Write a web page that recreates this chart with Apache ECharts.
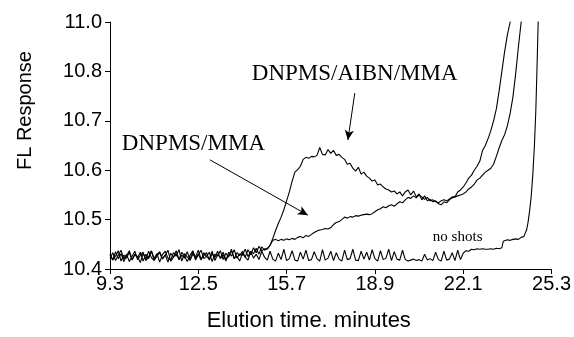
<!DOCTYPE html>
<html>
<head>
<meta charset="utf-8">
<script src="https://cdn.jsdelivr.net/npm/echarts@6/dist/echarts.min.js"></script>
<style>html,body{margin:0;padding:0;background:#fff}#c{width:574px;height:337px}</style>
</head>
<body>
<div id="c"></div>
<script>
// Time grid (minutes)
const timeGrid = [9.3,9.4,9.5,9.6,9.7,9.8,9.9,10.0,10.1,10.2,10.3,10.4,10.5,10.6,10.7,10.8,10.9,11.0,11.1,11.2,11.3,11.4,11.5,11.6,11.7,11.8,11.9,12.0,12.1,12.2,12.3,12.4,12.5,12.6,12.7,12.8,12.9,13.0,13.1,13.2,13.3,13.4,13.5,13.6,13.7,13.8,13.9,14.0,14.1,14.2,14.3,14.4,14.5,14.6,14.7,14.8,14.9,
15.0,15.1,15.2,15.3,15.4,15.5,15.6,15.7,15.8,15.9,16.0,16.1,16.2,16.3,16.4,16.5,16.6,16.7,16.8,16.9,17.0,17.1,17.2,17.3,17.4,17.5,17.6,17.7,17.8,17.9,18.0,18.1,18.2,18.3,18.4,18.5,18.6,18.7,18.8,18.9,19.0,19.1,19.2,19.3,19.4,19.5,19.6,19.7,19.8,19.9,20.0,20.1,20.2,20.3,20.4,20.5,20.6,20.7,20.8,20.9,21.0,21.1,21.2,21.3,21.4,21.5,21.6,21.7,21.8,21.9,22.0,22.1,22.2,22.3,22.4,22.5,22.6,22.7,22.8,22.9,23.0,23.1,23.2,23.3,23.4,23.5,23.6,23.7,23.8,23.9,24.0,24.1,24.2,24.3];

// DNPMS/AIBN/MMA (9.3 .. 23.9)
const aibnValues = [
10.428,10.418,10.435,10.421,10.431,10.415,10.427,10.437,10.419,10.429,
10.423,10.434,10.416,10.430,10.421,10.436,10.418,10.426,10.433,10.420,
10.429,10.414,10.432,10.424,10.437,10.419,10.428,10.422,10.435,10.417,
10.430,10.425,10.438,10.420,10.427,10.433,10.418,10.431,10.423,10.436,
10.421,10.429,10.416,10.434,10.426,10.439,10.422,10.431,10.428,10.440,
10.425,10.436,10.431,10.442,10.430,10.445,10.438,
10.442,10.448,10.462,10.478,10.492,10.505,10.520,10.538,10.556,10.578,
10.596,10.601,10.608,10.622,10.626,10.624,10.628,10.627,10.630,10.646,
10.632,10.631,10.642,10.634,10.640,10.630,10.632,10.626,10.622,10.612,
10.614,10.604,10.598,10.606,10.592,10.596,10.588,10.584,10.578,10.580,
10.570,10.572,10.566,10.562,10.560,10.556,10.558,10.552,10.556,10.548,
10.556,10.560,10.550,10.558,10.546,10.552,10.540,10.548,10.538,10.541,
10.536,10.538,10.532,10.530,10.536,10.534,10.540,10.544,10.546,10.556,
10.560,10.566,10.574,10.584,10.590,10.600,10.608,10.618,10.640,10.650,
10.664,10.680,10.700,10.724,10.760,10.800,10.840,10.874,10.900,10.930];

// DNPMS/MMA (9.3 .. 24.3)
const mmaValues = [
10.422,10.433,10.417,10.428,10.438,10.420,10.430,10.415,10.426,10.436,
10.419,10.428,10.434,10.417,10.425,10.437,10.421,10.431,10.414,10.429,
10.436,10.422,10.418,10.433,10.426,10.439,10.416,10.431,10.424,10.420,
10.435,10.418,10.429,10.438,10.421,10.426,10.434,10.415,10.430,10.427,
10.437,10.419,10.432,10.424,10.440,10.421,10.433,10.427,10.436,10.424,
10.439,10.429,10.443,10.433,10.446,10.437,10.441,
10.440,10.448,10.458,10.460,10.457,10.460,10.458,10.461,10.459,10.462,
10.460,10.464,10.466,10.463,10.468,10.466,10.470,10.474,10.477,10.479,
10.480,10.482,10.481,10.484,10.490,10.494,10.496,10.500,10.505,10.503,
10.506,10.505,10.508,10.507,10.509,10.510,10.511,10.510,10.512,10.516,
10.520,10.522,10.526,10.524,10.528,10.530,10.527,10.532,10.536,10.534,
10.540,10.545,10.543,10.548,10.544,10.550,10.546,10.541,10.545,10.538,
10.540,10.536,10.534,10.538,10.540,10.538,10.542,10.546,10.546,10.548,
10.550,10.552,10.556,10.562,10.566,10.572,10.580,10.584,10.590,10.596,
10.600,10.604,10.612,10.628,10.645,10.660,10.672,10.690,10.715,10.748,
10.795,10.850,10.900,10.930];

// no shots (9.3 .. 23.5 on grid, then tail)
const noShotValues = [
10.431,10.419,10.426,10.437,10.416,10.428,10.422,10.434,10.418,10.430,
10.425,10.413,10.432,10.420,10.436,10.423,10.417,10.429,10.435,10.421,
10.427,10.438,10.416,10.424,10.431,10.419,10.434,10.426,10.415,10.428,
10.437,10.422,10.430,10.418,10.433,10.425,10.420,10.436,10.417,10.429,
10.423,10.434,10.419,10.428,10.437,10.421,10.426,10.416,10.432,10.424,
10.418,10.435,10.422,10.430,10.419,10.436,10.424,
10.418,10.436,10.420,10.416,10.432,10.419,10.440,10.417,10.421,10.437,
10.418,10.416,10.434,10.420,10.438,10.417,10.419,10.435,10.421,10.416,
10.439,10.418,10.422,10.436,10.417,10.433,10.420,10.416,10.438,10.419,
10.421,10.440,10.418,10.417,10.436,10.420,10.434,10.418,10.439,10.421,
10.416,10.437,10.419,10.422,10.440,10.417,10.435,10.420,10.418,10.438,
10.419,10.416,10.418,10.420,10.417,10.419,10.416,10.430,10.418,10.421,
10.417,10.434,10.419,10.416,10.436,10.418,10.420,10.433,10.417,10.438,
10.419,10.432,10.437,10.436,10.440,10.439,10.441,10.440,10.441,10.440,
10.440,10.441,10.440,10.442,10.441,10.443];
const noShotTailTimes = [23.55,23.6,23.7,23.8,23.9,24.0,24.1,24.2,24.3,24.4,24.45,24.5,24.56,24.62,24.68,24.73,24.77,24.83];
const noShotTailValues = [10.456,10.457,10.459,10.458,10.460,10.461,10.460,10.464,10.466,10.480,10.495,10.515,10.545,10.590,10.650,10.720,10.800,10.930];

const xTickLabels = ['9.3','12.5','15.7','18.9','22.1','25.3'];
const yTickLabels = ['10.4','10.5','10.6','10.7','10.8','11.0'];

const X0 = 9.3, XSTEP = 3.2, Y0 = 10.4, YSTEP = 0.1;

function pairs(times, vals) { return vals.map((v, i) => [times[i] - X0, v]); }
const aData = pairs(timeGrid, aibnValues);
const mData = pairs(timeGrid, mmaValues);
const nData = pairs(timeGrid, noShotValues).concat(pairs(noShotTailTimes, noShotTailValues));

const lineStyle = { color: '#000', width: 1.1 };
const chart = echarts.init(document.getElementById('c'), null, { renderer: 'canvas' });

const arrows = [
  [[18.17, 10.756], [17.92, 10.661]],
  [[12.92, 10.621], [16.47, 10.509]]
];

chart.setOption({
  animation: false,
  backgroundColor: '#fff',
  grid: { left: 110, right: 22, top: 22, bottom: 62 },
  xAxis: {
    type: 'value', min: 0, max: 16, interval: XSTEP,
    name: 'Elution time. minutes', nameLocation: 'middle', nameGap: 41,
    nameTextStyle: { fontFamily: 'Liberation Sans', fontSize: 22, color: '#000', padding: [0, 44, 0, 0] },
    axisLine: { lineStyle: { color: '#000', width: 1 } },
    axisTick: { show: true, inside: false, length: 5, lineStyle: { color: '#000' } },
    splitLine: { show: false },
    axisLabel: { fontFamily: 'Liberation Sans', fontSize: 20, color: '#000', margin: 5,
      formatter: v => xTickLabels[Math.round(v / XSTEP)] }
  },
  yAxis: {
    type: 'value', min: Y0, max: 10.9, interval: YSTEP,
    name: 'FL Response', nameLocation: 'middle', nameGap: 75, nameRotate: 90,
    nameTextStyle: { fontFamily: 'Liberation Sans', fontSize: 20, color: '#000', padding: [0, 0, 0, 70] },
    axisLine: { show: true, lineStyle: { color: '#000', width: 1 } },
    axisTick: { show: true, inside: false, length: 5, lineStyle: { color: '#000' } },
    splitLine: { show: false },
    axisLabel: { fontFamily: 'Liberation Sans', fontSize: 20, color: '#000', margin: 8,
      formatter: v => yTickLabels[Math.round((v - Y0) / YSTEP)] }
  },
  series: [
    { type: 'line', data: aData, showSymbol: false, lineStyle, clip: true,
      markLine: { silent: true, symbol: ['none', 'arrow'], symbolSize: [7, 10],
        lineStyle: { color: '#000', width: 1, type: 'solid' }, label: { show: false },
        data: arrows.map(a => [{ coord: [a[0][0] - X0, a[0][1]] }, { coord: [a[1][0] - X0, a[1][1]] }]) } },
    { type: 'line', data: mData, showSymbol: false, lineStyle, clip: true },
    { type: 'line', data: nData, showSymbol: false, lineStyle, clip: true }
  ]
});

const labels = [
  { text: 'DNPMS/AIBN/MMA', at: [14.44, 10.795], size: 23 },
  { text: 'DNPMS/MMA', at: [9.73, 10.653], size: 23 },
  { text: 'no shots', at: [21.0, 10.465], size: 15 }
];
chart.setOption({
  graphic: labels.map(l => {
    const p = chart.convertToPixel({ gridIndex: 0 }, [l.at[0] - X0, l.at[1]]);
    return { type: 'text', x: p[0], y: p[1],
      style: { text: l.text, fill: '#000', font: l.size + 'px "Liberation Serif"', textVerticalAlign: 'middle', verticalAlign: 'middle' } };
  })
});
</script>
</body>
</html>
